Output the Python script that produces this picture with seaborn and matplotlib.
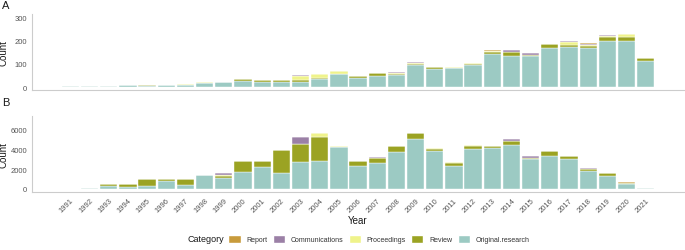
import numpy as np
import pandas as pd
import matplotlib
matplotlib.use("Agg")
import matplotlib.pyplot as plt
import matplotlib.patches as mpatches
import seaborn as sns

years = list(range(1991, 2022))
categories = ["Report", "Communications", "Proceedings", "Review", "Original.research"]
colors = ["#C89B3C", "#9B80A6", "#EFF38B", "#9BA323", "#9CCAC3"]

# panel A
orig_A = [3, 4, 4, 11, 6, 8, 9, 16, 20, 28, 23, 23, 24, 36, 55, 39, 50, 53, 94, 80, 81, 96, 143, 136, 133, 171, 174, 169, 201, 200, 114]
review_A = [0, 0, 0, 0, 4, 3, 2, 0, 3, 7, 7, 6, 7, 4, 0, 8, 9, 5, 8, 5, 0, 4, 7, 16, 6, 14, 10, 8, 14, 17, 10]
proc_A = [0, 0, 0, 0, 0, 0, 2, 6, 0, 0, 0, 0, 19, 17, 14, 0, 0, 4, 3, 0, 5, 3, 5, 0, 0, 0, 9, 5, 4, 13, 0]
comm_A = [0, 0, 1, 0, 0, 0, 0, 0, 0, 0, 0, 0, 4, 0, 0, 0, 3, 2, 5, 0, 0, 0, 0, 7, 7, 0, 5, 6, 6, 0, 2]
report_A = [0, 0, 0, 0, 0, 0, 0, 0, 0, 0, 0, 0, 0, 0, 0, 0, 0, 0, 0, 0, 0, 0, 4, 0, 0, 0, 0, 3, 0, 0, 0]

# panel B
orig_B = [0, 120, 270, 230, 300, 770, 400, 1400, 1130, 1730, 2170, 1600, 2670, 2800, 4170, 2330, 2630, 3670, 5000, 3770, 2300, 4030, 4100, 4470, 3030, 3270, 3030, 1830, 1330, 500, 60]
review_B = [0, 0, 170, 270, 670, 230, 600, 0, 170, 1100, 630, 2270, 1900, 2470, 100, 470, 470, 630, 630, 270, 300, 330, 200, 400, 100, 570, 270, 130, 300, 70, 0]
proc_B = [0, 0, 0, 0, 0, 0, 0, 0, 70, 0, 0, 0, 0, 400, 100, 0, 0, 0, 0, 70, 100, 70, 70, 0, 0, 0, 30, 0, 0, 60, 0]
comm_B = [0, 0, 0, 0, 0, 0, 0, 0, 230, 0, 0, 0, 670, 0, 0, 0, 130, 0, 0, 0, 0, 0, 0, 130, 170, 0, 0, 170, 0, 0, 0]
report_B = [0, 0, 0, 0, 0, 0, 0, 0, 0, 0, 0, 0, 0, 0, 0, 0, 0, 0, 0, 0, 0, 0, 0, 0, 0, 0, 0, 0, 0, 40, 0]


def make_df(report, comm, proc, review, orig):
    rows = []
    for cat, vals in zip(categories, [report, comm, proc, review, orig]):
        for y, v in zip(years, vals):
            rows.append({"Year": y, "Category": cat, "Count": v})
    return pd.DataFrame(rows)


df_A = make_df(report_A, comm_A, proc_A, review_A, orig_A)
df_B = make_df(report_B, comm_B, proc_B, review_B, orig_B)

sns.set_theme(style="white")
plt.rcParams["font.family"] = ["Liberation Sans", "DejaVu Sans"]

fig = plt.figure(figsize=(6.85, 2.51), dpi=100)
ax_A = fig.add_axes([0.0467, 0.637, 0.952, 0.303])
ax_B = fig.add_axes([0.0467, 0.231, 0.952, 0.303])

for ax, df in [(ax_A, df_A), (ax_B, df_B)]:
    sns.histplot(data=df, x="Year", weights="Count", hue="Category",
                 hue_order=categories, palette=colors, multiple="stack",
                 discrete=True, shrink=0.9, edgecolor="white", linewidth=0.3,
                 alpha=1, legend=False, ax=ax)
    ax.set_xlim(1989, 2023)
    for s in ["top", "right"]:
        ax.spines[s].set_visible(False)
    for s in ["left", "bottom"]:
        ax.spines[s].set_color("#cccccc")
        ax.spines[s].set_linewidth(0.8)
    ax.tick_params(axis="both", colors="#cccccc", length=2, width=0.6,
                   labelsize=5.5, labelcolor="#555555", pad=1.5)
    ax.set_ylabel("Count", fontsize=7, color="#1a1a1a")
    ax.yaxis.set_label_coords(-0.036, 0.5)

ax_A.set_ylim(-13, 316)
ax_A.set_yticks([0, 100, 200, 300])
ax_A.set_xticks([1990, 2000, 2010, 2020])
ax_A.set_xticklabels([])
ax_A.set_xlabel("")

ax_B.set_ylim(-320, 7350)
ax_B.set_yticks([0, 2000, 4000, 6000])
ax_B.set_xticks(years)
ax_B.set_xticklabels([str(y) for y in years], rotation=45, ha="right",
                     rotation_mode="anchor")
ax_B.set_xlabel("Year", fontsize=7, color="#1a1a1a", labelpad=1)

fig.text(0.003, 0.975, "A", fontsize=8, color="#1a1a1a", va="center")
fig.text(0.003, 0.59, "B", fontsize=8, color="#1a1a1a", va="center")

handles = [mpatches.Patch(facecolor=c, edgecolor="white", label=l)
           for c, l in zip(colors, categories)]
fig.text(0.327, 0.044, "Category", fontsize=6.5, color="#1a1a1a",
         ha="right", va="center")
fig.legend(handles=handles, loc="center", bbox_to_anchor=(0.553, 0.044),
           ncol=5, frameon=False, fontsize=5, handlelength=1.75,
           handleheight=1.4, handletextpad=0.8, columnspacing=0.8,
           labelcolor="#333333", borderpad=0.2)

fig.savefig("out.png", dpi=100)
